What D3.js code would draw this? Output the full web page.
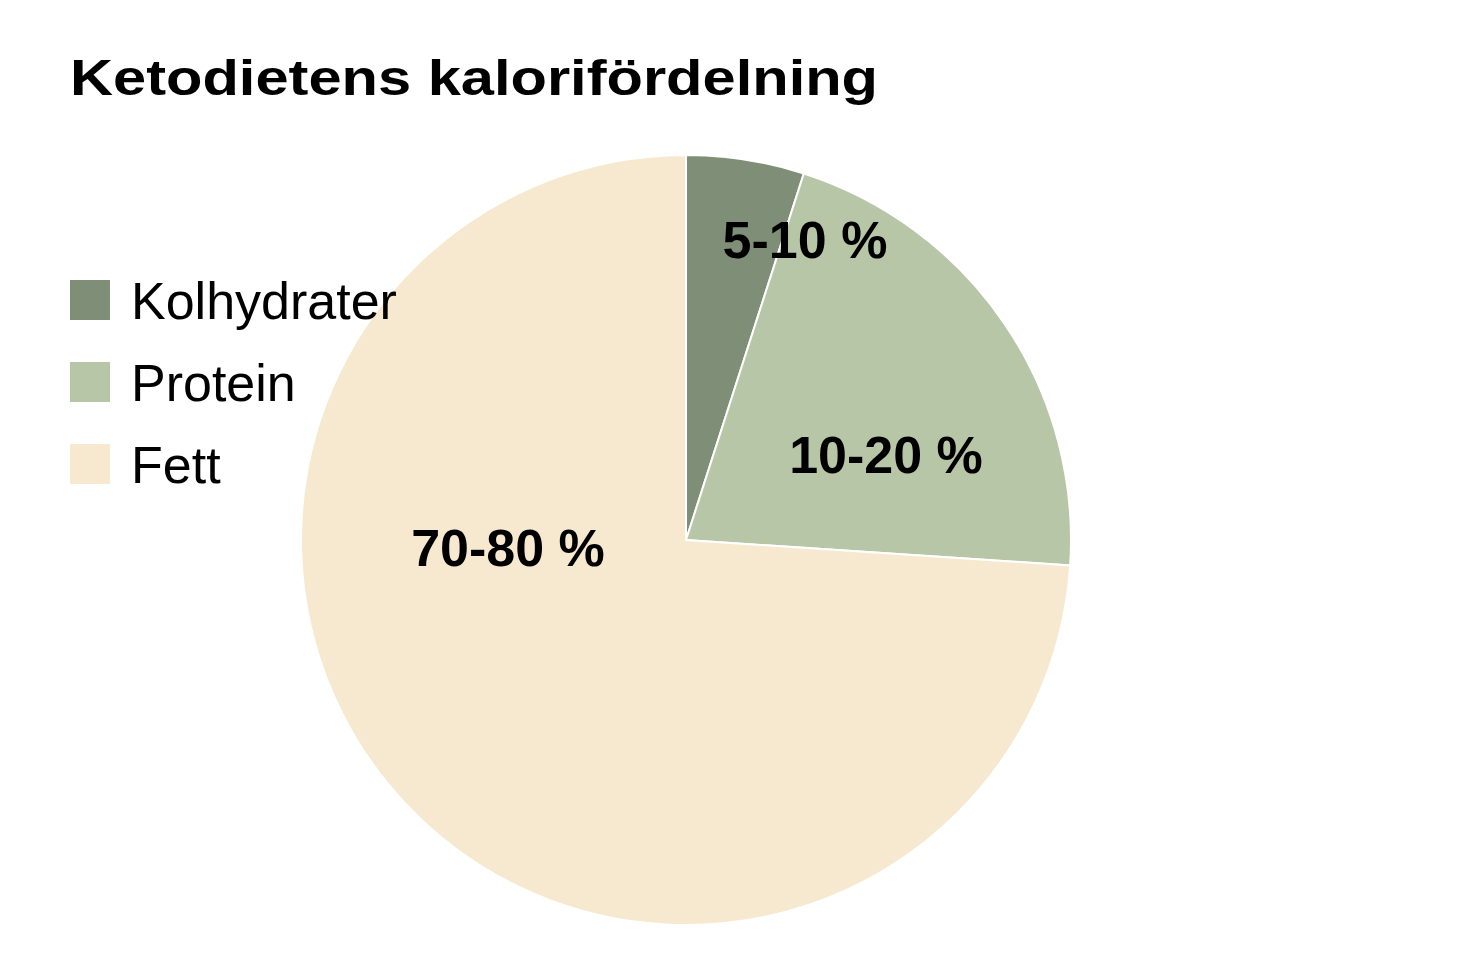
<!DOCTYPE html>
<html><head><meta charset="utf-8">
<script src="https://cdn.jsdelivr.net/npm/d3@7"></script>
<style>body{margin:0;background:#fff}</style>
</head><body><div id="chart"></div>
<script>
const W = 1480, H = 967;
const categories = ['Kolhydrater', 'Protein', 'Fett'];
const values = [4.95, 21.1, 73.95];
const labels = ['5-10 %', '10-20 %', '70-80 %'];
const colors = ['#7f8e76', '#b8c6a8', '#f6e9cf'];
const labelPos = [[805, 240], [886, 455], [508, 548]];

const svg = d3.select('#chart').append('svg')
  .attr('width', W).attr('height', H);

svg.append('text')
  .attr('x', 70).attr('y', 95)
  .attr('font-family', 'Liberation Sans, Arial, sans-serif')
  .attr('font-weight', 900).attr('font-size', 50)
  .attr('textLength', 808).attr('lengthAdjust', 'spacingAndGlyphs')
  .text('Ketodietens kaloriFördelning'.replace('F', 'f'));

const cx = 686, cy = 540, r = 385;
const pie = d3.pie().sort(null)(values);
const arc = d3.arc().innerRadius(0).outerRadius(r);

const g = svg.append('g').attr('transform', `translate(${cx},${cy})`);
g.selectAll('path').data(pie).join('path')
  .attr('d', arc)
  .attr('fill', (d, i) => colors[i])
  .attr('stroke', '#fff').attr('stroke-width', 2);

svg.selectAll('.lbl').data(labels).join('text')
  .attr('class', 'lbl')
  .attr('x', (d, i) => labelPos[i][0])
  .attr('y', (d, i) => labelPos[i][1] + 18)
  .attr('text-anchor', 'middle')
  .attr('font-family', 'Liberation Sans, Arial, sans-serif')
  .attr('font-weight', 900).attr('font-size', 52)
  .text(d => d);

const leg = svg.selectAll('.leg').data(categories).join('g')
  .attr('class', 'leg')
  .attr('transform', (d, i) => `translate(70,${280 + i * 82})`);
leg.append('rect').attr('width', 40).attr('height', 40)
  .attr('fill', (d, i) => colors[i]);
leg.append('text')
  .attr('x', 61).attr('y', 39)
  .attr('font-family', 'Liberation Sans Narrow, Liberation Sans, Arial, sans-serif')
  .attr('font-size', 52)
  .attr('transform', 'scale(1,1)')
  .text(d => d);
</script></body></html>
